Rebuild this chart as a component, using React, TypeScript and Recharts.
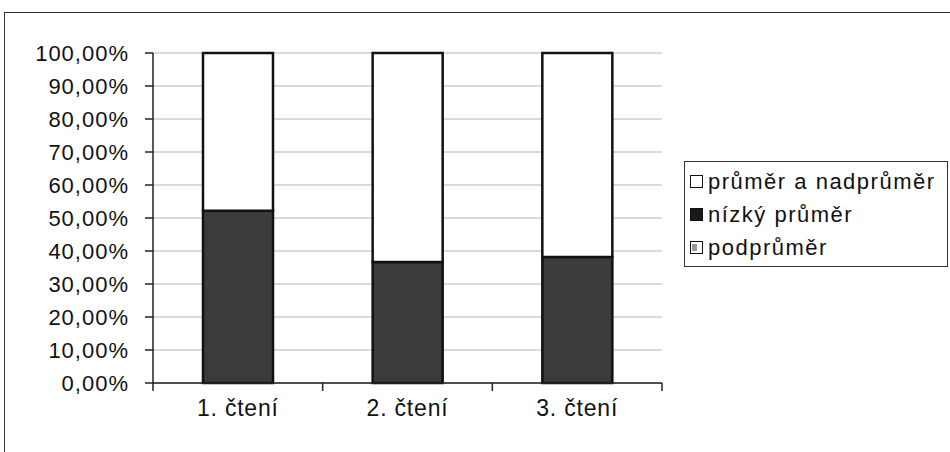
import React from 'react';
import { BarChart, Bar, XAxis, YAxis, CartesianGrid, Legend } from 'recharts';

const categories = ['1. čtení', '2. čtení', '3. čtení'];
const podprumer = [0, 0, 0];
const nizkyPrumer = [52.2, 36.7, 38.2];
const prumerANadprumer = [47.8, 63.3, 61.8];
const yTicks = [0, 10, 20, 30, 40, 50, 60, 70, 80, 90, 100];

const data = categories.map((name, i) => ({
  name,
  podprumer: podprumer[i],
  nizky: nizkyPrumer[i],
  prumer: prumerANadprumer[i],
}));

const FONT = '"Liberation Sans", Arial, sans-serif';
const PLOT_LEFT = 153;
const PLOT_RIGHT = 662;
const HALF_BAND = (PLOT_RIGHT - PLOT_LEFT) / categories.length / 2;

const legendItems = [
  { label: 'průměr a nadprůměr', fill: '#ffffff', inner: null },
  { label: 'nízký průměr', fill: '#1a1a1a', inner: null },
  { label: 'podprůměr', fill: '#ffffff', inner: '#9a9a9a' },
];

const formatPct = (v: number) => `${v.toFixed(2).replace('.', ',')}%`;

// category label plus Excel-style tick marks on the band boundaries
const CategoryTick = (props: any) => {
  const { x, y, payload, index } = props;
  return (
    <g>
      <line x1={x - HALF_BAND} y1={y - 8} x2={x - HALF_BAND} y2={y} stroke="#222" strokeWidth={1.5} />
      {index === categories.length - 1 && (
        <line x1={x + HALF_BAND} y1={y - 8} x2={x + HALF_BAND} y2={y} stroke="#222" strokeWidth={1.5} />
      )}
      <text x={x} y={y + 25} textAnchor="middle" fontSize={23} letterSpacing={0.8} fill="#111" fontFamily={FONT}>
        {payload.value}
      </text>
    </g>
  );
};

const LegendBox = () => (
  <div
    style={{
      width: 264,
      height: 106,
      border: '1.5px solid #333',
      boxSizing: 'border-box',
      background: '#fff',
      fontFamily: FONT,
      fontSize: 22,
      letterSpacing: 1.5,
      color: '#111',
      paddingTop: 3,
    }}
  >
    {legendItems.map((item) => (
      <div key={item.label} style={{ display: 'flex', alignItems: 'center', height: 33, paddingLeft: 5 }}>
        <span
          style={{
            display: 'inline-block',
            width: 11,
            height: 11,
            border: '1.5px solid #111',
            background: item.fill,
            marginRight: 5,
            position: 'relative',
          }}
        >
          {item.inner && (
            <span style={{ position: 'absolute', left: 1, top: 2, width: 5, height: 7, background: item.inner }} />
          )}
        </span>
        {item.label}
      </div>
    ))}
  </div>
);

export default function App() {
  return (
    <div style={{ position: 'absolute', left: 0, top: 0, width: 950, height: 452, background: '#fff', overflow: 'hidden' }}>
      <div
        style={{
          position: 'absolute',
          left: 4,
          top: 12,
          width: 960,
          height: 460,
          borderLeft: '1.5px solid #333',
          borderTop: '1.5px solid #333',
        }}
      />
      <BarChart
        width={950}
        height={452}
        data={data}
        margin={{ top: 53, right: 950 - PLOT_RIGHT, bottom: 20, left: 0 }}
        barSize={70}
        style={{ position: 'absolute', left: 0, top: 0 }}
      >
        <CartesianGrid vertical={false} stroke="#b5b5b5" strokeWidth={1} />
        <XAxis
          dataKey="name"
          axisLine={{ stroke: '#222', strokeWidth: 1.5 }}
          tickLine={false}
          tick={<CategoryTick />}
          height={49}
          interval={0}
        />
        <YAxis
          domain={[0, 100]}
          ticks={yTicks}
          tickFormatter={formatPct}
          width={PLOT_LEFT}
          axisLine={{ stroke: '#222', strokeWidth: 1.5 }}
          tickLine={{ stroke: '#222', strokeWidth: 1.5 }}
          tickSize={8}
          tickMargin={16}
          tick={{ fontSize: 22, fill: '#111', fontFamily: FONT, letterSpacing: 1 }}
        />
        <Legend
          layout="vertical"
          align="center"
          verticalAlign="middle"
          content={<LegendBox />}
          wrapperStyle={{ left: 684, top: 161, width: 264 }}
        />
        <Bar dataKey="podprumer" stackId="a" fill="#9a9a9a" stroke="#111" strokeWidth={2.5} isAnimationActive={false} />
        <Bar dataKey="nizky" stackId="a" fill="#3b3b3b" stroke="#111" strokeWidth={2.5} isAnimationActive={false} />
        <Bar dataKey="prumer" stackId="a" fill="#ffffff" stroke="#111" strokeWidth={2.5} isAnimationActive={false} />
      </BarChart>
    </div>
  );
}
